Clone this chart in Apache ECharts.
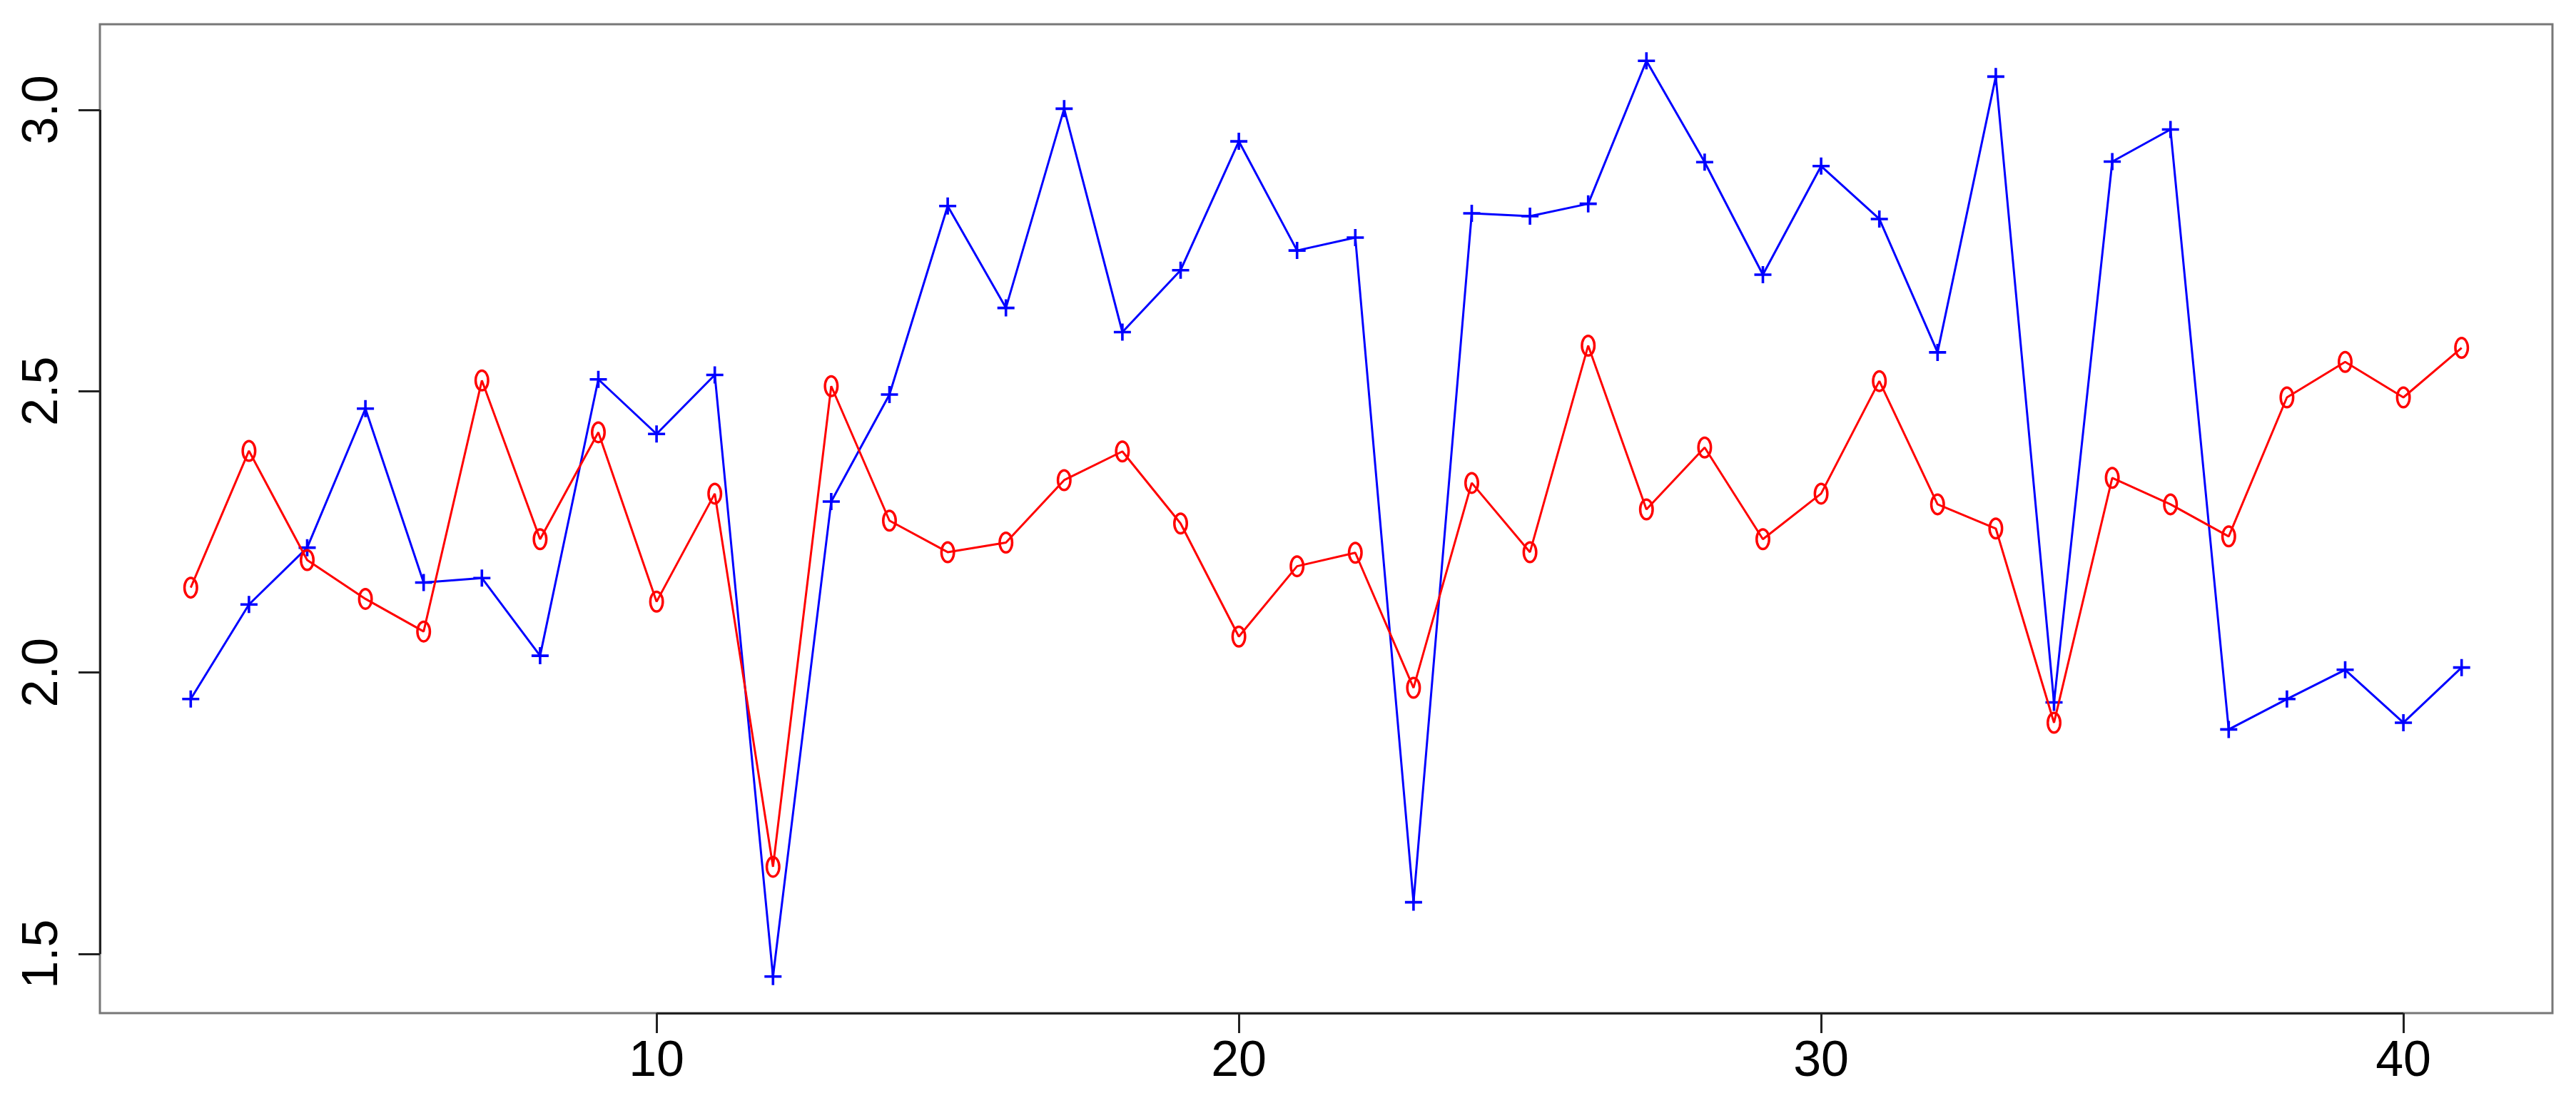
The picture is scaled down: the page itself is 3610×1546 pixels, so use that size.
<!DOCTYPE html>
<html>
<head>
<meta charset="utf-8">
<script src="https://cdn.jsdelivr.net/npm/echarts@6/dist/echarts.min.js"></script>
<style>
html,body{margin:0;padding:0;background:#fff;}
#chart{width:3610px;height:1546px;}
</style>
</head>
<body>
<div id="chart"></div>
<script>
// ---- data ----
const xValues = [2,3,4,5,6,7,8,9,10,11,12,13,14,15,16,17,18,19,20,21,22,23,24,25,26,27,28,29,30,31,32,33,34,35,36,37,38,39,40,41];
const blueValues = [1.953,2.121,2.222,2.469,2.160,2.168,2.030,2.521,2.424,2.529,
                    1.460,2.304,2.494,2.829,2.648,3.002,2.605,2.715,2.944,2.750,
                    2.773,1.592,2.816,2.811,2.833,3.087,2.907,2.707,2.900,2.806,
                    2.569,3.059,1.947,2.908,2.965,1.899,1.953,2.005,1.911,2.009];
const redValues  = [2.151,2.394,2.200,2.131,2.073,2.519,2.237,2.427,2.126,2.318,
                    1.655,2.509,2.270,2.214,2.231,2.342,2.393,2.265,2.064,2.189,
                    2.213,1.973,2.337,2.214,2.581,2.290,2.400,2.237,2.318,2.518,
                    2.299,2.256,1.911,2.346,2.299,2.242,2.489,2.552,2.489,2.577];
const xTicks = [10,20,30,40];
const yTicks = [1.5,2.0,2.5,3.0];

const xMin = 0.44, xMax = 42.56, yMin = 1.395, yMax = 3.152;

const pair = (vals) => xValues.map((x, i) => [x, vals[i]]);

const plusPath = 'path://M-1.8,-12L1.8,-12L1.8,-1.8L12,-1.8L12,1.8L1.8,1.8L1.8,12L-1.8,12L-1.8,1.8L-12,1.8L-12,-1.8L-1.8,-1.8Z';
const ringPath = 'path://M0,-15.5A10.5,15.5,0,1,1,0,15.5A10.5,15.5,0,1,1,0,-15.5ZM0,-12A7,12,0,1,0,0,12A7,12,0,1,0,0,-12Z';

const chart = echarts.init(document.getElementById('chart'), null, {renderer: 'canvas'});
const fontFamily = '"Liberation Sans", Arial, Helvetica, sans-serif';

chart.setOption({
  animation: false,
  backgroundColor: '#ffffff',
  grid: {
    left: 140, right: 33, top: 34, bottom: 126,
    show: true, borderColor: '#777777', borderWidth: 3,
    containLabel: false, outerBoundsMode: 'none'
  },
  xAxis: {
    type: 'value', min: xMin, max: xMax,
    splitLine: {show: false},
    axisLine: {show: false},
    axisTick: {show: true, inside: false, length: 28, customValues: xTicks,
               lineStyle: {color: '#222', width: 3}},
    axisLabel: {show: true, customValues: xTicks, margin: 34,
                fontSize: 70, color: '#000', fontFamily: fontFamily}
  },
  yAxis: {
    type: 'value', min: yMin, max: yMax,
    splitLine: {show: false},
    axisLine: {show: false},
    axisTick: {show: true, inside: false, length: 30, customValues: yTicks,
               lineStyle: {color: '#222', width: 3}},
    axisLabel: {show: true, customValues: yTicks, rotate: 90, margin: 44,
                fontSize: 70, color: '#000', fontFamily: fontFamily,
                formatter: (v) => v.toFixed(1)}
  },
  series: [
    {
      type: 'line', data: pair(blueValues),
      lineStyle: {color: '#0000ff', width: 3},
      symbol: plusPath, symbolSize: 24, showSymbol: true,
      itemStyle: {color: '#0000ff'},
      emphasis: {disabled: true}, z: 2,
      markLine: {
        silent: true, symbol: 'none', label: {show: false},
        lineStyle: {color: '#222', width: 3, type: 'solid'},
        data: [
          [{coord: [xTicks[0], yMin]}, {coord: [xTicks[xTicks.length - 1], yMin]}],
          [{coord: [xMin, yTicks[0]]}, {coord: [xMin, yTicks[yTicks.length - 1]]}]
        ]
      }
    },
    {
      type: 'line', data: pair(redValues),
      lineStyle: {color: '#ff0000', width: 3},
      symbol: ringPath, symbolSize: [21, 31], showSymbol: true,
      itemStyle: {color: '#ff0000'},
      emphasis: {disabled: true}, z: 3
    }
  ]
});
</script>
</body>
</html>
